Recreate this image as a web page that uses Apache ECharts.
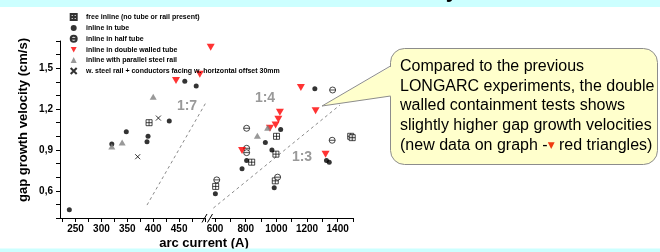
<!DOCTYPE html>
<html>
<head>
<meta charset="utf-8">
<script src="https://cdn.jsdelivr.net/npm/echarts@6/dist/echarts.min.js"></script>
<style>
html, body { margin: 0; padding: 0; background: #fff; }
#chart { width: 660px; height: 252px; }
</style>
</head>
<body>
<div id="chart"></div>
<script>
// measurements: [arc current (A), gap growth velocity (cm/s)]
var freeInline = [[392, 1.10], [604, 0.632], [839, 0.81], [997, 0.869], [1001, 1.0], [993, 0.673], [1485, 1.0], [1495, 0.99]];
var inTube = [[238, 0.46], [320, 0.944], [348, 1.034], [388, 0.96], [390, 1.0], [431, 1.112], [461, 1.405], [483, 1.37],
    [1251, 1.35], [1028, 1.05], [928, 0.954], [971, 0.9], [806, 0.822], [776, 0.761], [1327, 0.822], [1345, 0.81], [602, 0.578], [986, 0.622]];
var halfTube = [[1367, 1.34], [806, 1.059], [1364, 0.971], [806, 0.912], [806, 0.88], [611, 0.68], [1008, 0.70]];
var doubleWalled = [[444, 1.41], [490, 1.455], [511, 1.654], [1160, 1.359], [1256, 1.188], [1023, 1.176], [1013, 1.125],
    [995, 1.083], [958, 1.059], [776, 0.895], [1321, 0.869]];
var steelRail = [[320, 0.925], [340, 0.954], [400, 1.29], [943, 1.063], [876, 1.005]];
var railConductors = [[370, 0.85], [410, 1.134]];

// guide lines
var ratio17 = [[388, 0.495], [593, 1.851]];
var ratio13 = [[589, 0.473], [1414, 1.229]];

// ticks
var leftTicks = [225, 250, 275, 300, 325, 350, 375, 400, 425, 450, 475, 500];
var leftLabels = [250, 300, 350, 400, 450];
var rightTicks = [600, 700, 800, 900, 1000, 1100, 1200, 1300, 1400, 1500];
var rightLabels = [600, 800, 1000, 1200, 1400];
var yTicks = [0.4, 0.5, 0.6, 0.7, 0.8, 0.9, 1.0, 1.1, 1.2, 1.3, 1.4, 1.5, 1.6, 1.7];
var yLabels = [0.6, 0.9, 1.2, 1.5];

var breakAt = 540;
var font = 'Liberation Sans';

var boxCross = 'path://M0,0H10V10H0Z M5,0V10 M0,5H10';
var circleBar = 'path://M0,5A5,5 0 1 1 10,5A5,5 0 1 1 0,5Z M0,5H10';
var cross = 'path://M0,0L10,10M10,0L0,10';
var downTri = 'path://M0,0L10,0L5,9Z';

var kinds = [
    { name: 'free inline (no tube or rail present)', data: freeInline, symbol: boxCross, size: 6,
        style: { color: '#fff', borderColor: '#000', borderWidth: 0.9 } },
    { name: 'inline in tube', data: inTube, symbol: 'circle', size: 5, style: { color: '#000' } },
    { name: 'inline in half tube', data: halfTube, symbol: circleBar, size: 6,
        style: { color: '#fff', borderColor: '#000', borderWidth: 0.9 } },
    { name: 'inline in double walled tube', data: doubleWalled, symbol: downTri, size: [8, 7],
        style: { color: '#ff0000' } },
    { name: 'inline with parallel steel rail', data: steelRail, symbol: 'triangle', size: [7, 6],
        style: { color: '#808080' } },
    { name: 'w. steel rail + conductors facing w. horizontal offset 30mm', data: railConductors, symbol: cross, size: 5,
        style: { color: '#000', borderColor: '#000', borderWidth: 1 } }
];

function part(list, right) {
    return list.filter(function (p) { return right ? p[0] >= breakAt : p[0] < breakAt; });
}

var series = [];
kinds.forEach(function (k) {
    [0, 1].forEach(function (g) {
        series.push({
            type: 'scatter', name: k.name, xAxisIndex: g, yAxisIndex: g,
            data: part(k.data, g === 1),
            symbol: k.symbol, symbolSize: k.size,
            itemStyle: k.style, clip: false, silent: true, z: 3
        });
    });
});

var dashed = { color: '#8a8a8a', width: 1, type: [3, 3] };
series.push({ type: 'line', xAxisIndex: 0, yAxisIndex: 0, data: ratio17, symbol: 'none', clip: false, silent: true, lineStyle: dashed, z: 2 });
series.push({ type: 'line', xAxisIndex: 1, yAxisIndex: 1, data: ratio13, symbol: 'none', clip: false, silent: true, lineStyle: dashed, z: 2 });

function xAxisOf(g, min, max, ticks, labels) {
    return {
        type: 'value', gridIndex: g, min: min, max: max,
        axisLine: { show: true, onZero: false, lineStyle: { color: '#000', width: 1 } },
        axisTick: { show: true, customValues: ticks, length: 4, lineStyle: { color: '#000' } },
        axisLabel: { customValues: labels, margin: 6, fontSize: 10, fontWeight: 'bold', color: '#000', fontFamily: font,
            formatter: function (v) { return String(v); } },
        splitLine: { show: false }
    };
}

var calloutText = 'Compared to the previous\nLONGARC experiments, the double\nwalled containment tests shows\n' +
    'slightly higher gap growth velocities\n(new data on graph -{r|▼} red triangles)';

var chart = echarts.init(document.getElementById('chart'));
chart.setOption({
    animation: false,
    textStyle: { fontFamily: font },
    grid: [
        { left: 60, top: 41, width: 145, height: 177 },
        { left: 212, top: 41, width: 141, height: 177 }
    ],
    xAxis: [
        xAxisOf(0, 220, 500, leftTicks, leftLabels),
        xAxisOf(1, 580, 1500, rightTicks, rightLabels)
    ],
    yAxis: [
        {
            type: 'value', gridIndex: 0, min: 0.4, max: 1.7,
            axisLine: { show: true, onZero: false, lineStyle: { color: '#000', width: 1 } },
            axisTick: { show: true, customValues: yTicks, length: 4, lineStyle: { color: '#000' } },
            axisLabel: {
                customValues: yLabels, margin: 7, fontSize: 10, fontWeight: 'bold', color: '#000', fontFamily: font,
                formatter: function (v) { return v.toFixed(1).replace('.', ','); }
            },
            splitLine: { show: false }
        },
        { type: 'value', gridIndex: 1, min: 0.4, max: 1.7, show: false, splitLine: { show: false } }
    ],
    legend: {
        orient: 'vertical', left: 69.7, top: 13, padding: 0,
        itemWidth: 6, itemHeight: 6, itemGap: 3.4,
        data: kinds.map(function (k) { return k.name; }),
        textStyle: { fontSize: 7, fontWeight: 'bold', color: '#000', fontFamily: font, padding: [0, 0, 0, 4.3], lineHeight: 6 },
        selectedMode: false
    },
    series: series,
    graphic: [
        { type: 'rect', shape: { x: 0, y: 0, width: 660, height: 7 }, style: { fill: '#ccffff' }, z: 1 },
        { type: 'text', x: 458, y: 2, style: { text: 'Results of velocity', fontSize: 22, fontWeight: 'bold', fontFamily: font,
            fill: '#000', align: 'right', verticalAlign: 'bottom' }, z: 2 },
        { type: 'text', x: 23, y: 120, rotation: Math.PI / 2, style: { text: 'gap growth velocity (cm/s)', fontSize: 13,
            fontWeight: 'bold', fontFamily: font, fill: '#000', align: 'center', verticalAlign: 'middle' }, z: 2 },
        { type: 'text', x: 204, y: 243.5, style: { text: 'arc current (A)', fontSize: 13,
            fontWeight: 'bold', fontFamily: font, fill: '#000', align: 'center', verticalAlign: 'middle' }, z: 2 },
        { type: 'rect', shape: { x: 0, y: 248.5, width: 660, height: 4 }, style: { fill: '#ccffff' }, z: 5 },
        // axis break
        { type: 'line', shape: { x1: 202, y1: 222.5, x2: 207, y2: 214 }, style: { stroke: '#000', lineWidth: 1 }, z: 5 },
        { type: 'line', shape: { x1: 207.5, y1: 222.5, x2: 212.5, y2: 214 }, style: { stroke: '#000', lineWidth: 1 }, z: 5 },
        // ratio labels
        { type: 'text', x: 187, y: 106, style: { text: '1:7', fontSize: 14, fontWeight: 'bold', fontFamily: font, fill: '#999',
            align: 'center', verticalAlign: 'middle' }, z: 2 },
        { type: 'text', x: 265, y: 98, style: { text: '1:4', fontSize: 14, fontWeight: 'bold', fontFamily: font, fill: '#999',
            align: 'center', verticalAlign: 'middle' }, z: 2 },
        { type: 'text', x: 302, y: 157, style: { text: '1:3', fontSize: 14, fontWeight: 'bold', fontFamily: font, fill: '#999',
            align: 'center', verticalAlign: 'middle' }, z: 2 },
        // callout
        { type: 'rect', shape: { x: 390.5, y: 48.5, width: 267, height: 116, r: 14 },
            style: { fill: '#ffffcc', stroke: '#8c8c8c', lineWidth: 1 }, z: 20 },
        { type: 'polygon', shape: { points: [[392, 66], [322, 106], [392, 96]] }, style: { fill: '#ffffcc' }, z: 21 },
        { type: 'polyline', shape: { points: [[390.5, 66], [322, 106], [390.5, 96]] },
            style: { stroke: '#8c8c8c', lineWidth: 1, fill: null }, z: 22 },
        { type: 'text', x: 400, y: 57, style: { text: calloutText, fontSize: 16, fontFamily: font, lineHeight: 19.6,
            fill: '#000', align: 'left', verticalAlign: 'top',
            rich: { r: { fill: '#f03c10', fontSize: 9, fontFamily: 'DejaVu Sans', lineHeight: 19.6 } } }, z: 23 }
    ]
});
</script>
</body>
</html>
